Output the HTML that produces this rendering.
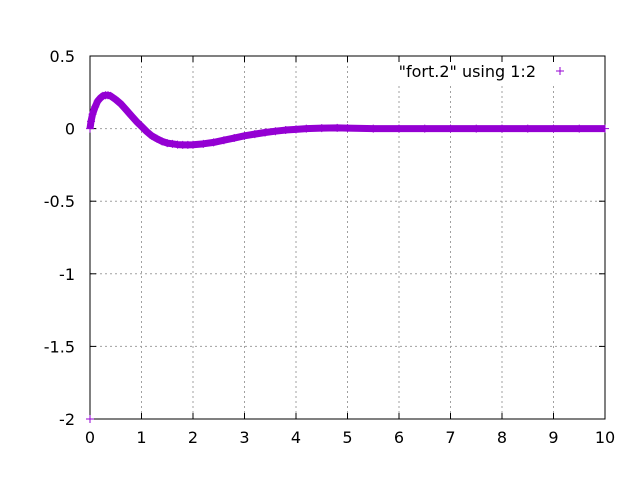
<!DOCTYPE html>
<html><head><meta charset="utf-8"><style>
body{margin:0;background:#fff}
svg{display:block;font-family:"DejaVu Sans","Liberation Sans",sans-serif;font-size:16px}
</style></head><body>
<svg id="chart" width="640" height="480"></svg>
<script>
const xs=[0,0.02,0.05,0.1,0.15,0.2,0.25,0.3,0.35,0.4,0.5,0.6,0.7,0.8,0.9,1.0,1.1,1.2,1.3,1.4,1.5,1.6,1.7,1.8,1.9,2.0,2.2,2.4,2.6,2.8,3.0,3.2,3.4,3.6,3.8,4.0,4.2,4.5,4.8,5.0,5.5,6,6.5,7,7.5,8,8.5,9,9.5,10];
const ys=[0,0.05,0.1,0.15,0.19,0.21,0.225,0.23,0.23,0.225,0.2,0.17,0.13,0.09,0.05,0.015,-0.02,-0.05,-0.07,-0.088,-0.1,-0.105,-0.11,-0.112,-0.112,-0.111,-0.105,-0.095,-0.08,-0.065,-0.05,-0.038,-0.027,-0.018,-0.01,-0.005,0,0.003,0.005,0.003,0,0,0,0,0,0,0,0,0,0];
const extraX=[0];
const extraY=[-2];
const xTicks=[0,1,2,3,4,5,6,7,8,9,10];
const yTicks=[0.5,0,-0.5,-1,-1.5,-2];
const yTickLabels=["0.5","0","-0.5","-1","-1.5","-2"];
const L=90,R=605,T=56,B=419;
const sx=v=>L+(v-0)/10*(R-L);
const sy=v=>T+(0.5-v)/2.5*(B-T);
const svg=document.getElementById('chart');
const NS='http://www.w3.org/2000/svg';
function mk(t,a,p){const e=document.createElementNS(NS,t);for(const k in a)e.setAttribute(k,a[k]);(p||svg).appendChild(e);return e;}
const grid=mk('g',{});


xTicks.forEach(v=>{if(v>0&&v<10){mk('line',{x1:sx(v),x2:sx(v),y1:T,y2:B,stroke:'#a0a0a0','stroke-dasharray':'2,3'},grid);}});
yTicks.forEach(v=>{if(v<0.5&&v>-2){mk('line',{x1:L,x2:R,y1:sy(v),y2:sy(v),stroke:'#a0a0a0','stroke-dasharray':'2,3'},grid);}});
mk('rect',{x:378,y:57,width:195,height:28,fill:'#fff'});
const ax=mk('g',{});


mk('rect',{x:L,y:T,width:R-L,height:B-T,fill:'none',stroke:'#000'},ax);
xTicks.forEach(v=>{
  mk('line',{x1:sx(v),x2:sx(v),y1:B,y2:B-6,stroke:'#000'},ax);
  mk('line',{x1:sx(v),x2:sx(v),y1:T,y2:T+6,stroke:'#000'},ax);
  const t=mk('text',{x:sx(v),y:B+24,'text-anchor':'middle'},ax);t.textContent=v;
  
  
});
yTicks.forEach((v,i)=>{
  mk('line',{x1:L,x2:L+6,y1:sy(v),y2:sy(v),stroke:'#000'},ax);
  mk('line',{x1:R,x2:R-6,y1:sy(v),y2:sy(v),stroke:'#000'},ax);
  const t=mk('text',{x:L-15,y:sy(v)+6,'text-anchor':'end'},ax);t.textContent=yTickLabels[i];
  
  
});
const ser=mk('g',{});


mk('polyline',{points:xs.map((x,i)=>sx(x)+','+sy(ys[i])).join(' '),fill:'none',stroke:'#9400d3','stroke-width':7,'stroke-linejoin':'round'},ser);
function cross(x,y,g){mk('path',{d:`M${x-4},${y}h8M${x},${y-4}v8`,stroke:'#9400d3','stroke-width':1},g);}
xs.forEach((x,i)=>cross(sx(x),sy(ys[i]),ser));
extraX.forEach((x,i)=>cross(sx(x),sy(extraY[i]),ser));
const lg=mk('g',{});


const lt=mk('text',{x:536,y:77,'text-anchor':'end'},lg);lt.textContent='"fort.2" using 1:2';
cross(560,71,lg);
</script>
</body></html>
